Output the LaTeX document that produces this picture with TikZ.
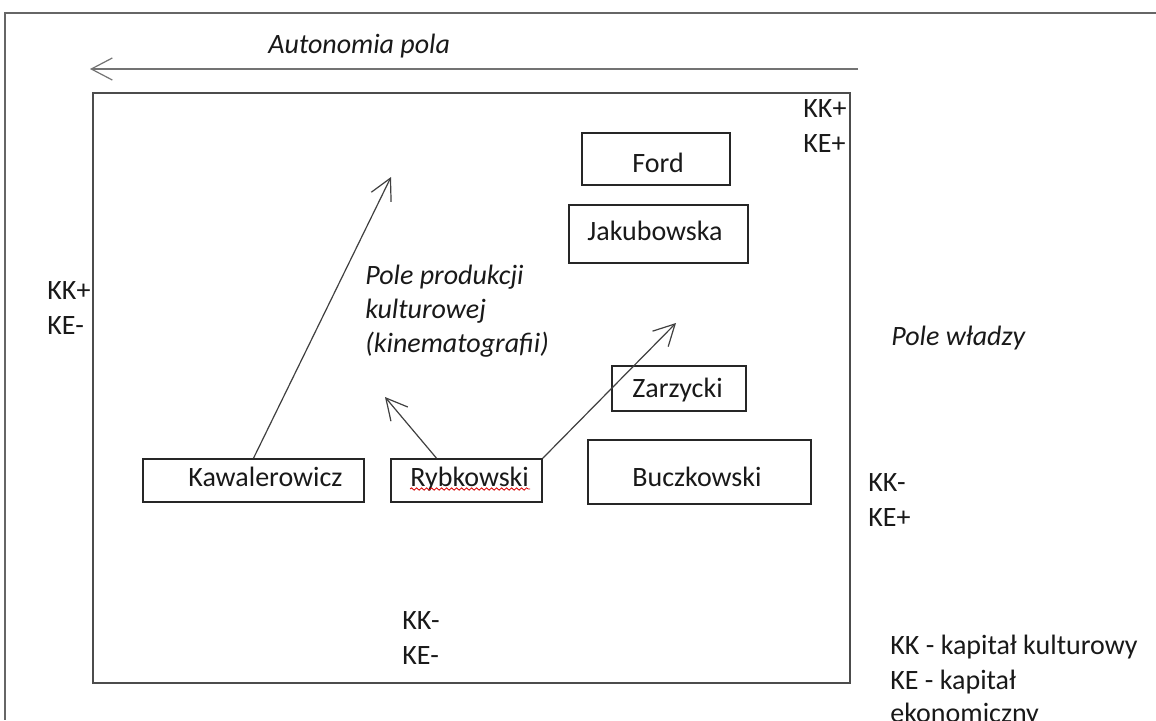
\documentclass[tikz,border=0pt]{standalone}
\usepackage{fontspec}
\setmainfont{Carlito}
\usetikzlibrary{arrows.meta,decorations.pathmorphing}
\begin{document}
\begin{tikzpicture}[x=0.5pt,y=-0.5pt,
  lbl/.style={anchor=base west, inner sep=0pt, font=\fontsize{14}{17}\selectfont, text=black!90},
  ilbl/.style={lbl, font=\fontsize{14}{17}\selectfont\itshape},
  person/.style={draw=black!85, line width=0.8pt, inner sep=0pt},
  frameline/.style={draw=black!60, line width=1pt},
  arr/.style={draw=black!75, line width=0.6pt, -{Straight Barb[length=10.5pt,width=11pt,line width=0.6pt]}},
  spell/.style={draw=red!85!black, line width=0.4pt, decorate, decoration={snake, amplitude=0.6pt, segment length=2.5pt}}
]
\useasboundingbox (0,0) rectangle (1156,720);
\fill[white] (0,0) rectangle (1156,720);

% outer frame (cropped)
\draw[frameline] (1156,13) -- (5,13) -- (5,720);
% inner field
\draw[frameline, draw=black!70] (93,93) rectangle (850,683);

% autonomy arrow
\coordinate (autS) at (858,69);
\coordinate (autE) at (90,69);
\draw[arr, draw=black!55, line width=1pt] (autS) -- (autE);
\node[ilbl] (aut) at (268,53) {Autonomia pola};

% boxes
\node[person, minimum width=74pt, minimum height=26pt] (ford) at (656,159) {};
\node[person, minimum width=89.5pt, minimum height=29pt] (jak) at (658.5,234) {};
\node[person, minimum width=67pt, minimum height=22.5pt] (zar) at (679,388.5) {};
\node[person, minimum width=111.5pt, minimum height=32pt] (bucz) at (699.5,472) {};
\node[person, minimum width=75.5pt, minimum height=21.5pt] (ryb) at (466.5,480.5) {};
\node[person, minimum width=110.5pt, minimum height=21.5pt] (kaw) at (253.5,480.5) {};

\node[lbl] (fordt) at (632,172) {Ford};
\node[lbl] (jakt) at (587,240) {Jakubowska};
\node[lbl] (zart) at (632,397) {Zarzycki};
\node[lbl] (buczt) at (632,486) {Buczkowski};
\node[lbl] (rybt) at (410,486) {Rybkowski};
\node[lbl] (kawt) at (188,486) {Kawalerowicz};
\draw[spell] (410,489) -- (530,489);

% arrows
\coordinate (kawE) at (391,177);
\coordinate (rybE1) at (385,397);
\coordinate (rybE2) at (676,323);
\draw[arr] (kaw.north) -- (kawE);
\draw[arr] ([xshift=-15pt]ryb.north) -- (rybE1);
\draw[arr] (ryb.north east) -- (rybE2);

% field labels
\node[ilbl] (ppk1) at (365,284) {Pole produkcji};
\node[ilbl] (ppk2) at (365,318) {kulturowej};
\node[ilbl] (ppk3) at (365,352) {(kinematografii)};
\node[ilbl] (pw) at (891,345) {Pole władzy};

% capital labels
\node[lbl] (l1a) at (47,299) {KK+};
\node[lbl] (l1b) at (47,334) {KE-};
\node[lbl] (r1a) at (803,117) {KK+};
\node[lbl] (r1b) at (803,152) {KE+};
\node[lbl] (r2a) at (868,491) {KK-};
\node[lbl] (r2b) at (868,526) {KE+};
\node[lbl] (b1a) at (402,629) {KK-};
\node[lbl] (b1b) at (402,664) {KE-};

% legend
\node[lbl] (leg1) at (890,654) {KK - kapitał kulturowy};
\node[lbl] (leg2) at (890,689) {KE - kapitał};
\node[lbl] (leg3) at (890,722) {ekonomiczny};
\end{tikzpicture}
\end{document}
